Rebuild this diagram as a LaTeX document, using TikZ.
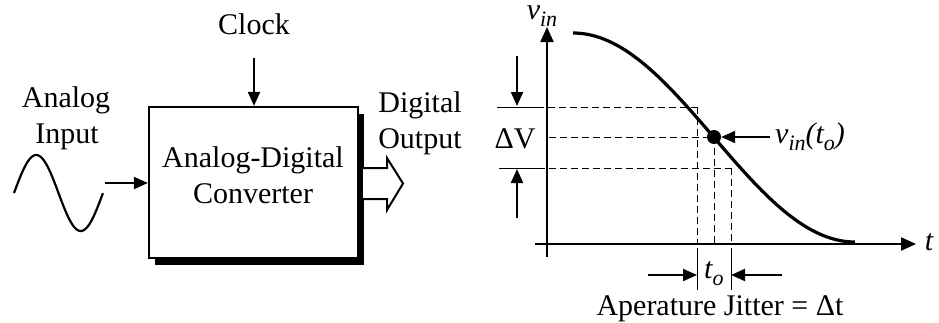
\documentclass[tikz,border=0pt]{standalone}
\usepackage{fontspec}
\setmainfont{Liberation Serif}
\usetikzlibrary{arrows.meta,shadows}
\newcommand{\subtxt}[1]{\raisebox{-7pt}{\fontsize{22}{22}\selectfont #1}}
\begin{document}
\begin{tikzpicture}[x=1pt,y=-1pt,
  lbl/.style={inner sep=0pt, font=\fontsize{30}{34}\selectfont},
  arr/.style={-{Triangle[length=14pt,width=12pt]}, line width=2pt},
  dsh/.style={dash pattern=on 7pt off 4pt, line width=1pt},
  thin/.style={line width=1pt},
  axis/.style={line width=2.2pt, -{Triangle[length=15pt,width=13pt]}}]
\useasboundingbox (0,0) rectangle (939,322);
% ---------------- left: ADC block ----------------
\node[lbl, anchor=base] (clock) at (254,34) {Clock};
\node[draw, line width=2.2pt, fill=white, minimum width=209pt, minimum height=151pt,
  inner sep=0pt, drop shadow={shadow xshift=6pt, shadow yshift=-7pt, opacity=1, fill=black}]
  (adc) at (253.5,182.5) {};
\node[lbl, anchor=base] (adc1) at (253,167) {Analog-Digital};
\node[lbl, anchor=base] (adc2) at (253,203) {Converter};
\coordinate (clk) at (254,58);
\draw[arr] (clk) -- (adc.north -| clk);
\node[lbl, anchor=base] (an1) at (66,107) {Analog};
\node[lbl, anchor=base] (an2) at (67,143) {Input};
\draw[line width=2.2pt] plot[domain=0:1, samples=80] ({14+89*\x},{193-38*sin(360*\x)});
\coordinate (inA) at (105,183);
\draw[arr] (inA) -- (adc.west |- inA);
\draw[line width=2pt, fill=white, line join=miter]
  (363,168) -- (387,168) -- (387,158) -- (403,183.5) -- (387,210) -- (387,199) -- (363,199);
\node[lbl, anchor=base] (dg1) at (420,112) {Digital};
\node[lbl, anchor=base] (dg2) at (420,148) {Output};
% ---------------- right: graph ----------------
\draw[dsh] (537,107) -- (697,107);
\draw[thin] (497,107) -- (537,107);
\draw[dsh] (549,137) -- (714,137);
\draw[dsh] (538,168) -- (731,168);
\draw[thin] (499,168) -- (538,168);
\draw[dsh] (697,107) -- (697,244);
\draw[dsh] (714,137) -- (714,244);
\draw[dsh] (731,168) -- (731,244);
\draw[axis] (547,257) -- (547,27);
\draw[axis] (535,244) -- (916,244);
\node[lbl, anchor=base] (vin) at (542,19) {\itshape v\subtxt{in}};
\node[lbl, anchor=base] (tl) at (929,250) {\itshape t};
\draw[line width=3.2pt] plot[domain=0:1, samples=80] ({573+282*\x},{137.5-104.5*cos(180*\x)});
\node[circle, fill=black, inner sep=0pt, minimum size=14pt] (pt) at (714,137) {};
\coordinate (vlA) at (770,137);
\draw[arr] (vlA) -- (pt);
\node[lbl, anchor=base west] (vlab) at (775,143) {\itshape v\subtxt{in}(t\subtxt{o})};
\node[lbl, anchor=base] (dv) at (515,148) {ΔV};
\draw[arr] (517,56) -- (517,106);
\draw[arr] (517,218) -- (517,169);
\draw[thin] (697,248) -- (697,290);
\draw[thin] (731,248) -- (731,290);
\draw[arr] (648,275) -- (697,275);
\draw[arr] (782,275) -- (731,275);
\node[lbl, anchor=base west] (to) at (704,278) {\itshape t\subtxt{o}};
\node[lbl, anchor=base] (jit) at (720,315) {Aperature Jitter = Δt};
\end{tikzpicture}
\end{document}
